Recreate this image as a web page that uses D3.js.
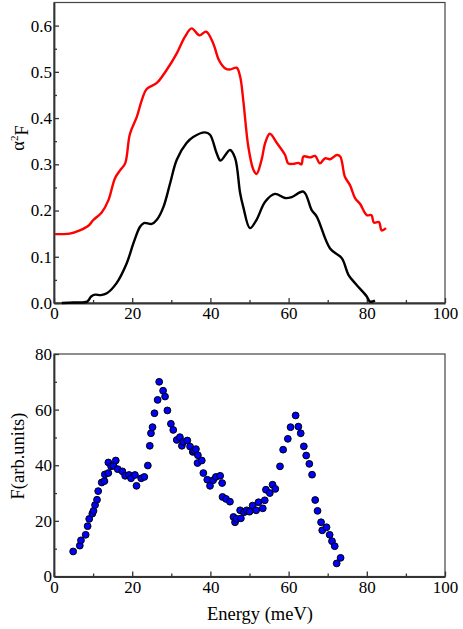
<!DOCTYPE html>
<html>
<head>
    <meta charset="utf-8">
    <title>alpha2F and F spectra</title>
    <script src="https://d3js.org/d3.v7.min.js"></script>
    <style>
        body {
            margin: 0;
            padding: 0;
            background-color: #fff;
        }
        svg text {
            font-family: 'Liberation Serif', 'DejaVu Serif', serif;
            fill: #000;
        }
        .axis path, .axis line {
            stroke: #333;
        }
        .axis path {
            stroke-width: 1.8;
        }
        .axis line {
            stroke-width: 1.3;
        }
        .frame {
            fill: none;
            stroke: #444;
            stroke-width: 1.2;
        }
    </style>
</head>
<body>
    <svg id="chart" width="463" height="629"></svg>

    <script>
        // top panel: red curve (alpha^2 F, shifted) and black curve
        const redEnergy = [0.3, 2, 4, 6.6, 8.8, 10, 12.2, 13.9, 15.6, 16.9, 18.2, 19.4, 21.2, 22.5, 23.7, 26.3, 28.8, 31.4,
            33.5, 35.2, 37.2, 38.9, 40.7, 42.2, 43.7, 45, 46.7, 47.6, 48.4, 49.7, 51, 51.8, 53.1, 54, 55.2, 57,
            59.1, 59.9, 61.2, 62.5, 63.3, 63.8, 65.5, 66.8, 68, 69.3, 70.6, 72.3, 73.2, 74.4, 75.7, 77, 78.3,
            80, 81.2, 81.8, 83.1, 83.8, 84.9];
        const redValues = [0.149, 0.149, 0.150, 0.157, 0.167, 0.179, 0.196, 0.222, 0.270, 0.287, 0.302, 0.365, 0.403, 0.440,
            0.463, 0.476, 0.504, 0.540, 0.576, 0.594, 0.579, 0.587, 0.562, 0.525, 0.508, 0.505, 0.509, 0.490,
            0.439, 0.338, 0.288, 0.279, 0.310, 0.346, 0.366, 0.346, 0.320, 0.302, 0.301, 0.303, 0.300, 0.317,
            0.315, 0.318, 0.302, 0.313, 0.311, 0.320, 0.317, 0.273, 0.255, 0.227, 0.214, 0.190, 0.190, 0.174,
            0.175, 0.157, 0.162];

        const blackEnergy = [2, 5, 8.5, 9.5, 10.5, 12, 13.5, 16, 18.6, 20.3, 22, 23, 25, 26.3, 28, 29.7, 31.4, 33.9,
            35.6, 38.6, 39.9, 41.6, 42.6, 45, 46.3, 47.6, 48.4, 50.1, 51.8, 54, 56.5, 59.1, 60.8, 63.8, 65.9,
            67.2, 70.6, 73.6, 75.3, 77.4, 80, 80.8, 82.1];
        const blackValues = [0, 0.001, 0.003, 0.014, 0.018, 0.017, 0.021, 0.043, 0.086, 0.129, 0.165, 0.173, 0.171, 0.180,
            0.208, 0.259, 0.310, 0.346, 0.359, 0.369, 0.364, 0.324, 0.308, 0.331, 0.314, 0.238, 0.208, 0.162,
            0.180, 0.219, 0.236, 0.227, 0.229, 0.241, 0.201, 0.187, 0.118, 0.097, 0.061, 0.039, 0.014, 0.003,
            0.005];

        // bottom panel: phonon density of states points
        const dotEnergy = [4.9, 6.6, 6.9, 8.1, 8.6, 9.0, 9.8, 10.1, 10.5, 11.0, 11.3, 12.2, 12.9, 13.0, 13.9, 13.9, 14.6,
            15.2, 15.8, 16.3, 17.5, 18.2, 19.2, 19.7, 20.7, 21.1, 22.3, 23.1, 24.0, 24.5, 24.8, 25.2, 25.7, 26.5,
            26.9, 27.9, 28.4, 29.0, 29.9, 30.5, 31.4, 32.2, 32.7, 33.1, 34.1, 34.8, 35.5, 35.8, 36.3, 36.8, 36.7,
            37.8, 38.2, 39.2, 39.9, 40.7, 41.4, 42.5, 43.0, 43.1, 44.0, 45.0, 45.9, 46.3, 46.7, 47.6, 47.8, 48.6,
            49.3, 50.0, 50.8, 51.7, 52.3, 53.4, 53.9, 54.2, 55.2, 55.9, 56.6, 57.8, 58.6, 59.8, 60.5, 61.8, 62.5,
            63.1, 63.9, 64.5, 65.3, 66.0, 66.8, 67.4, 68.3, 68.6, 69.7, 70.5, 71.1, 71.8, 72.3, 73.3];
        const dotValues = [9.0, 11.1, 13.0, 15.0, 18.1, 20.7, 22.6, 23.6, 25.7, 27.6, 30.7, 33.8, 34.3, 36.7, 37.2, 41.0,
            39.6, 39.8, 41.7, 38.6, 37.8, 36.2, 36.5, 35.3, 36.5, 32.6, 35.3, 35.8, 39.9, 47.0, 51.5, 53.7, 58.7,
            63.5, 70.0, 66.8, 64.7, 59.7, 54.9, 52.7, 49.1, 50.1, 47.0, 48.4, 48.9, 46.7, 44.8, 45.3, 45.8, 43.6,
            40.8, 41.7, 37.2, 34.8, 32.6, 34.6, 35.8, 36.2, 33.6, 28.6, 27.9, 26.9, 21.4, 19.5, 20.7, 23.8, 20.9,
            23.1, 23.8, 23.3, 25.5, 23.8, 26.7, 24.5, 27.4, 31.2, 30.0, 33.0, 31.5, 39.6, 45.6, 49.5, 53.7, 57.9,
            53.9, 51.5, 46.8, 43.5, 40.5, 36.6, 27.5, 23.6, 19.5, 16.6, 17.7, 15.0, 12.7, 10.9, 4.7, 6.7];

        const xTicks = [0, 20, 40, 60, 80, 100];
        const xMinorTicks = [10, 30, 50, 70, 90];
        const topYTicks = [0, 0.1, 0.2, 0.3, 0.4, 0.5, 0.6];
        const topYMinorTicks = [0.05, 0.15, 0.25, 0.35, 0.45, 0.55];
        const bottomYTicks = [0, 20, 40, 60, 80];
        const bottomYMinorTicks = [10, 30, 50, 70];

        const svg = d3.select("#chart");
        const left = 54, right = 445;
        const serif = "'Liberation Serif', 'DejaVu Serif', serif";

        const x = d3.scaleLinear().domain([0, 100]).range([left, right]);
        const yTop = d3.scaleLinear().domain([0, 0.65]).range([303, 2.5]);
        const yBottom = d3.scaleLinear().domain([0, 80]).range([576.5, 354]);

        function styleAxis(sel) {
            sel.attr("font-family", serif).attr("font-size", 17);
            sel.selectAll("text").attr("fill", "#000");
        }

        function drawPanel(y, yTicks, yMinor, yFormat) {
            const y0 = y.range()[0], y1 = y.range()[1];
            svg.append("rect")
                .attr("class", "frame")
                .attr("x", left).attr("y", y1)
                .attr("width", right - left).attr("height", y0 - y1);

            const g = svg.append("g");
            g.append("g")
                .attr("class", "axis")
                .attr("transform", "translate(0," + y0 + ")")
                .call(d3.axisBottom(x).tickValues(xTicks).tickSizeInner(-5).tickSizeOuter(0).tickPadding(4))
                .call(styleAxis);
            g.append("g")
                .attr("class", "axis")
                .attr("transform", "translate(0," + y0 + ")")
                .call(d3.axisBottom(x).tickValues(xMinorTicks).tickFormat("").tickSizeInner(-3).tickSizeOuter(0))
                .select(".domain").remove();
            g.append("g")
                .attr("class", "axis")
                .attr("transform", "translate(" + left + ",0)")
                .call(d3.axisLeft(y).tickValues(yTicks).tickFormat(yFormat).tickSizeInner(-5).tickSizeOuter(0).tickPadding(2))
                .call(styleAxis);
            g.append("g")
                .attr("class", "axis")
                .attr("transform", "translate(" + left + ",0)")
                .call(d3.axisLeft(y).tickValues(yMinor).tickFormat("").tickSizeInner(-3).tickSizeOuter(0))
                .select(".domain").remove();
        }

        drawPanel(yTop, topYTicks, topYMinorTicks, d3.format(".1f"));
        drawPanel(yBottom, bottomYTicks, bottomYMinorTicks, d3.format("d"));

        const line = d3.line()
            .x(d => x(d[0]))
            .y(d => yTop(d[1]))
            .curve(d3.curveCatmullRom.alpha(0.5));

        svg.append("path")
            .datum(d3.zip(redEnergy, redValues))
            .attr("d", line)
            .attr("fill", "none")
            .attr("stroke", "#ff0000")
            .attr("stroke-width", 2.4);

        svg.append("path")
            .datum(d3.zip(blackEnergy, blackValues))
            .attr("d", line)
            .attr("fill", "none")
            .attr("stroke", "#000")
            .attr("stroke-width", 2.4);

        svg.append("g")
            .selectAll("circle")
            .data(d3.zip(dotEnergy, dotValues))
            .join("circle")
            .attr("cx", d => x(d[0]))
            .attr("cy", d => yBottom(d[1]))
            .attr("r", 3.4)
            .attr("fill", "#0000ff")
            .attr("stroke", "#000")
            .attr("stroke-width", 1);

        // axis titles
        const topLabel = svg.append("text")
            .attr("transform", "translate(24,138) rotate(-90)")
            .attr("text-anchor", "middle")
            .attr("font-family", serif)
            .attr("font-size", 18.5);
        topLabel.append("tspan").text("α");
        topLabel.append("tspan").attr("dy", "-0.55em").attr("font-size", 11).text("2");
        topLabel.append("tspan").attr("dy", "0.55em").text("F");

        svg.append("text")
            .attr("transform", "translate(24,456) rotate(-90)")
            .attr("text-anchor", "middle")
            .attr("font-family", serif)
            .attr("font-size", 18.5)
            .text("F(arb.units)");

        svg.append("text")
            .attr("x", 260)
            .attr("y", 620)
            .attr("text-anchor", "middle")
            .attr("font-family", serif)
            .attr("font-size", 18.5)
            .text("Energy (meV)");
    </script>
</body>
</html>
